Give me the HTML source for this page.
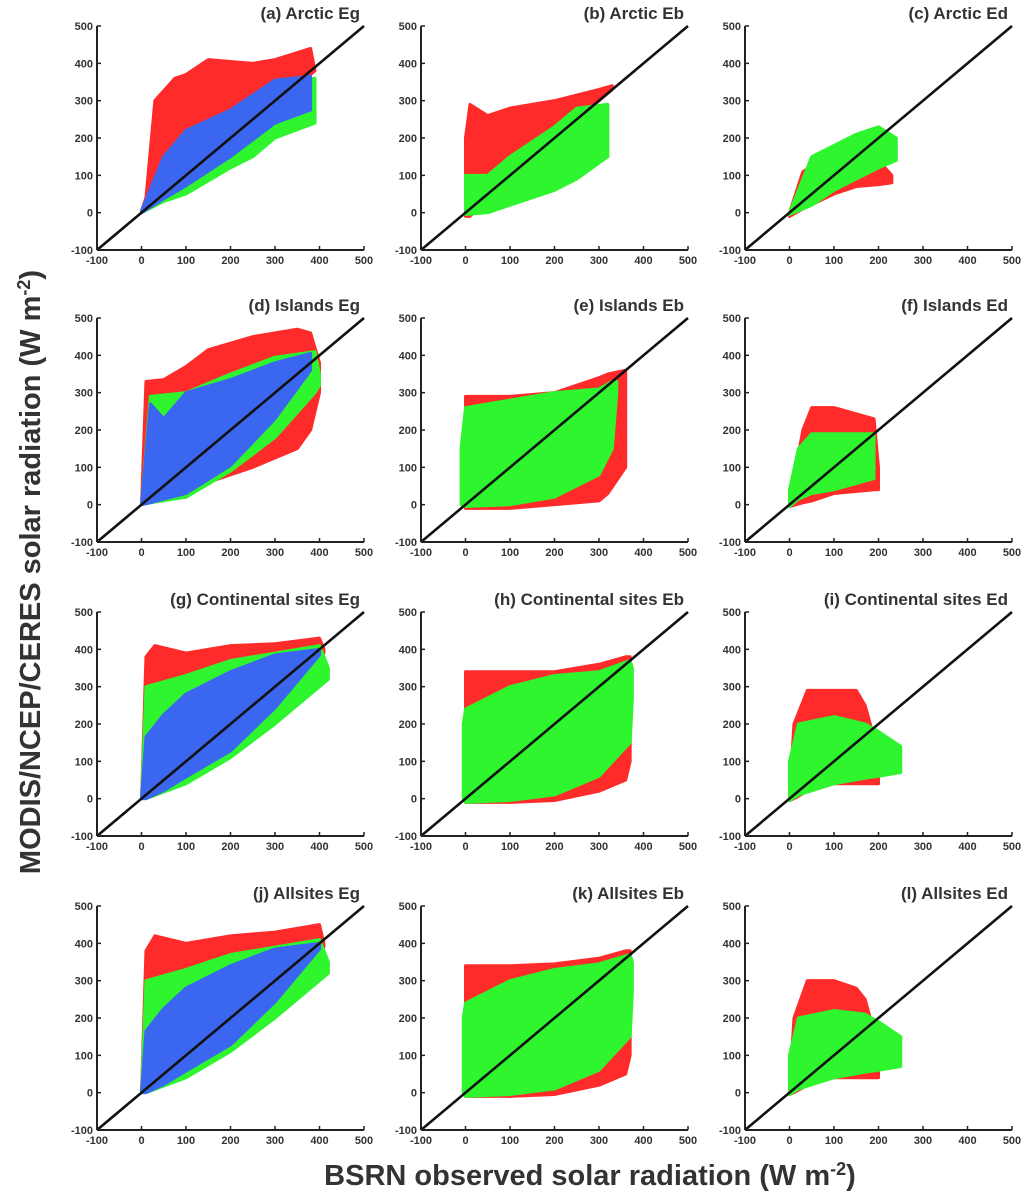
<!DOCTYPE html>
<html><head><meta charset="utf-8">
<style>
html,body{margin:0;padding:0;background:#fff;}
svg{display:block;font-family:"Liberation Sans",Arial,sans-serif;}
</style></head>
<body>
<svg id="chart" width="1024" height="1198" viewBox="0 0 1024 1198" xmlns="http://www.w3.org/2000/svg">
<text transform="translate(40,572) rotate(-90)" text-anchor="middle" font-size="29" font-weight="bold" fill="#333">MODIS/NCEP/CERES solar radiation (W m<tspan dy="-10" font-size="18">-2</tspan><tspan dy="10">)</tspan></text>
<text x="590" y="1185" text-anchor="middle" font-size="29" font-weight="bold" fill="#333">BSRN observed solar radiation (W m<tspan dy="-10" font-size="18">-2</tspan><tspan dy="10">)</tspan></text>
</svg>
<script>
const titles = ["(a) Arctic Eg","(b) Arctic Eb","(c) Arctic Ed","(d) Islands Eg","(e) Islands Eb","(f) Islands Ed","(g) Continental sites Eg","(h) Continental sites Eb","(i) Continental sites Ed","(j) Allsites Eg","(k) Allsites Eb","(l) Allsites Ed"];
const ticks = [-100,0,100,200,300,400,500];
// Cloud envelopes (x, upper y, lower y) per panel and colour
const panelA_red_x=[0,10,30,75,100,150,250,300,380,390], panelA_red_hi=[5,40,300,360,370,410,400,410,440,380], panelA_red_lo=[0,10,20,70,130,160,200,300,370,380];
const panelA_grn_x=[0,50,100,200,250,300,390], panelA_grn_hi=[5,140,210,270,310,350,360], panelA_grn_lo=[0,30,50,120,150,200,240];
const panelA_blu_x=[0,50,100,200,300,380], panelA_blu_hi=[5,150,220,275,355,365], panelA_blu_lo=[0,37,72,150,240,275];
const panelB_red_x=[0,10,50,100,200,300,330], panelB_red_hi=[200,290,260,280,300,330,340], panelB_red_lo=[-10,-10,40,100,200,300,330];
const panelB_grn_x=[0,50,100,200,250,320], panelB_grn_hi=[100,100,150,230,280,290], panelB_grn_lo=[-5,0,20,60,90,150];
const panelC_red_x=[0,30,100,150,200,230], panelC_red_hi=[0,110,160,190,140,100], panelC_red_lo=[-10,10,50,70,75,80];
const panelC_grn_x=[0,20,50,100,150,200,240], panelC_grn_hi=[0,60,150,180,210,230,200], panelC_grn_lo=[-5,5,20,60,90,120,140];
const panelD_red_x=[0,10,50,100,150,250,350,380,400], panelD_red_hi=[0,330,335,370,415,450,470,460,380], panelD_red_lo=[0,5,15,20,60,100,150,200,300];
const panelD_grn_x=[0,20,100,200,300,390,400], panelD_grn_hi=[0,290,300,350,395,410,350], panelD_grn_lo=[0,5,20,90,180,300,320];
const panelD_blu_x=[0,20,50,100,200,300,380], panelD_blu_hi=[0,270,230,300,335,380,405], panelD_blu_lo=[0,5,15,30,105,230,360];
const panelE_red_x=[0,100,200,300,320,360], panelE_red_hi=[290,290,300,340,350,360], panelE_red_lo=[-10,-10,0,10,30,100];
const panelE_grn_x=[-10,0,100,200,300,330,340], panelE_grn_hi=[150,260,280,300,310,330,330], panelE_grn_lo=[0,-5,0,20,80,150,300];
const panelF_red_x=[0,30,50,100,190,200], panelF_red_hi=[5,200,260,260,230,100], panelF_red_lo=[-5,5,10,30,40,40];
const panelF_grn_x=[0,20,50,100,190], panelF_grn_hi=[40,150,190,190,190], panelF_grn_lo=[-5,15,30,40,70];
const panelG_red_x=[0,10,30,100,200,300,400,410], panelG_red_hi=[0,380,410,390,410,415,430,400], panelG_red_lo=[0,50,100,200,260,300,380,390];
const panelG_grn_x=[0,10,100,200,300,400,420], panelG_grn_hi=[0,300,330,370,390,410,350], panelG_grn_lo=[0,0,40,110,200,300,320];
const panelG_blu_x=[0,10,50,100,200,300,400], panelG_blu_hi=[0,165,225,280,340,385,400], panelG_blu_lo=[0,0,22,58,128,243,385];
const panelH_red_x=[0,100,200,300,360,370], panelH_red_hi=[340,340,340,360,380,380], panelH_red_lo=[-10,-10,-5,20,50,100];
const panelH_grn_x=[-5,0,100,200,300,370,375], panelH_grn_hi=[200,240,300,330,340,370,350], panelH_grn_lo=[0,-10,-5,10,60,150,270];
const panelI_red_x=[0,10,40,100,150,170,200], panelI_red_hi=[5,200,290,290,290,250,120], panelI_red_lo=[-5,0,20,40,40,40,40];
const panelI_grn_x=[0,20,100,170,200,250], panelI_grn_hi=[100,200,220,200,180,140], panelI_grn_lo=[-5,10,40,55,60,70];
const panelJ_red_x=[0,10,30,100,200,300,400,410], panelJ_red_hi=[0,380,420,400,420,430,450,400], panelJ_red_lo=[0,50,100,200,260,300,380,390];
const panelJ_grn_x=[0,10,100,200,300,400,420], panelJ_grn_hi=[0,300,330,370,390,410,350], panelJ_grn_lo=[0,0,40,110,200,300,320];
const panelJ_blu_x=[0,10,50,100,200,300,400], panelJ_blu_hi=[0,165,225,280,340,385,400], panelJ_blu_lo=[0,0,22,58,128,243,385];
const panelK_red_x=[0,100,200,300,360,370], panelK_red_hi=[340,340,345,360,380,380], panelK_red_lo=[-10,-10,-5,20,50,100];
const panelK_grn_x=[-5,0,100,200,300,370,375], panelK_grn_hi=[200,240,300,330,345,370,350], panelK_grn_lo=[0,-10,-5,10,60,150,270];
const panelL_red_x=[0,10,40,100,150,170,200], panelL_red_hi=[5,200,300,300,280,250,120], panelL_red_lo=[-5,0,20,40,40,40,40];
const panelL_grn_x=[0,20,100,170,200,250], panelL_grn_hi=[100,200,220,210,190,150], panelL_grn_lo=[-5,10,40,55,60,70];

const RED="#ff2a2a", GRN="#2ef52e", BLU="#3a66f0";
const layers=[
 [[RED,panelA_red_x,panelA_red_hi,panelA_red_lo],[GRN,panelA_grn_x,panelA_grn_hi,panelA_grn_lo],[BLU,panelA_blu_x,panelA_blu_hi,panelA_blu_lo]],
 [[RED,panelB_red_x,panelB_red_hi,panelB_red_lo],[GRN,panelB_grn_x,panelB_grn_hi,panelB_grn_lo]],
 [[RED,panelC_red_x,panelC_red_hi,panelC_red_lo],[GRN,panelC_grn_x,panelC_grn_hi,panelC_grn_lo]],
 [[RED,panelD_red_x,panelD_red_hi,panelD_red_lo],[GRN,panelD_grn_x,panelD_grn_hi,panelD_grn_lo],[BLU,panelD_blu_x,panelD_blu_hi,panelD_blu_lo]],
 [[RED,panelE_red_x,panelE_red_hi,panelE_red_lo],[GRN,panelE_grn_x,panelE_grn_hi,panelE_grn_lo]],
 [[RED,panelF_red_x,panelF_red_hi,panelF_red_lo],[GRN,panelF_grn_x,panelF_grn_hi,panelF_grn_lo]],
 [[RED,panelG_red_x,panelG_red_hi,panelG_red_lo],[GRN,panelG_grn_x,panelG_grn_hi,panelG_grn_lo],[BLU,panelG_blu_x,panelG_blu_hi,panelG_blu_lo]],
 [[RED,panelH_red_x,panelH_red_hi,panelH_red_lo],[GRN,panelH_grn_x,panelH_grn_hi,panelH_grn_lo]],
 [[RED,panelI_red_x,panelI_red_hi,panelI_red_lo],[GRN,panelI_grn_x,panelI_grn_hi,panelI_grn_lo]],
 [[RED,panelJ_red_x,panelJ_red_hi,panelJ_red_lo],[GRN,panelJ_grn_x,panelJ_grn_hi,panelJ_grn_lo],[BLU,panelJ_blu_x,panelJ_blu_hi,panelJ_blu_lo]],
 [[RED,panelK_red_x,panelK_red_hi,panelK_red_lo],[GRN,panelK_grn_x,panelK_grn_hi,panelK_grn_lo]],
 [[RED,panelL_red_x,panelL_red_hi,panelL_red_lo],[GRN,panelL_grn_x,panelL_grn_hi,panelL_grn_lo]]
];

const NS="http://www.w3.org/2000/svg";
const svg=document.getElementById('chart');
const colLeft=[97,421,745], rowTop=[26,318,612,906], W=267, H=224;
function mk(tag,attrs,parent){const e=document.createElementNS(NS,tag);for(const k in attrs)e.setAttribute(k,attrs[k]);parent.appendChild(e);return e;}

for(let p=0;p<12;p++){
  const L=colLeft[p%3], T=rowTop[Math.floor(p/3)];
  const sx=v=>L+(v+100)/600*W, sy=v=>T+H-(v+100)/600*H;
  const g=mk('g',{},svg);
  
  
  layers[p].forEach((ly)=>{
    const [c,xs,hi,lo]=ly;
    let pts=xs.map((x,j)=>sx(x)+','+sy(hi[j]));
    for(let j=xs.length-1;j>=0;j--) pts.push(sx(xs[j])+','+sy(lo[j]));
    const poly=mk('polygon',{points:pts.join(' '),fill:c,stroke:c,'stroke-width':3,'stroke-linejoin':'round'},g);
    
    
  });
  const d=mk('line',{x1:sx(-100),y1:sy(-100),x2:sx(500),y2:sy(500),stroke:'#111','stroke-width':2.6},g);
  
  
  mk('line',{x1:L,y1:T,x2:L,y2:T+H,stroke:'#222','stroke-width':2},g);
  mk('line',{x1:L,y1:T+H,x2:L+W,y2:T+H,stroke:'#222','stroke-width':2},g);
  ticks.forEach(t=>{
    mk('line',{x1:sx(t),y1:T+H,x2:sx(t),y2:T+H-4,stroke:'#222','stroke-width':1.5},g);
    mk('line',{x1:L,y1:sy(t),x2:L+4,y2:sy(t),stroke:'#222','stroke-width':1.5},g);
    const xt=mk('text',{x:sx(t),y:T+H+14,'text-anchor':'middle','font-size':11,'font-weight':'bold',fill:'#333'},g);
    xt.textContent=t;
    
    
    const yt=mk('text',{x:L-4,y:sy(t)+4,'text-anchor':'end','font-size':11,'font-weight':'bold',fill:'#333'},g);
    yt.textContent=t;
    
    
  });
  const ti=mk('text',{x:L+W-4,y:T-7,'text-anchor':'end','font-size':17,'font-weight':'bold',fill:'#333'},g);
  ti.textContent=titles[p];
  
  
}
</script>
</body></html>
